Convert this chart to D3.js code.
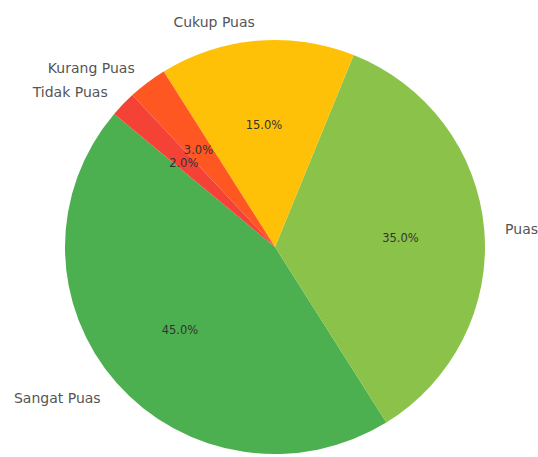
<!DOCTYPE html>
<html>
<head>
<meta charset="utf-8">
<script src="https://cdn.jsdelivr.net/npm/d3@7"></script>
<style>
    body { margin: 0; background: #fff; }
    text { font-family: "DejaVu Sans", sans-serif; }
</style>
</head>
<body>
<div id="chart"></div>
<script>
// survey satisfaction shares
const categories = ['Sangat Puas', 'Puas', 'Cukup Puas', 'Kurang Puas', 'Tidak Puas'];
const values = [45, 35, 15, 3, 2];
const colors = ['#4CAF50', '#8BC34A', '#FFC107', '#FF5722', '#F44336'];

const width = 538, height = 457;
const cx = 275, cy = 247;
const rx = 210, ry = 207;
const startDeg = 140; // counter-clockwise from 3 o'clock, like matplotlib

const svg = d3.select('#chart').append('svg')
    .attr('width', width)
    .attr('height', height);

const rad = d => d * Math.PI / 180;

const pie = d3.pie()
    .sort(null)
    .value(d => d.value)
    .startAngle(rad(90 - startDeg))
    .endAngle(rad(90 - startDeg - 360));

const arcs = pie(categories.map((c, i) => ({name: c, value: values[i], color: colors[i]})));

const arc = d3.arc().innerRadius(0).outerRadius(rx);

svg.append('g')
    .attr('transform', `translate(${cx},${cy}) scale(1,${ry / rx})`)
    .selectAll('path')
    .data(arcs)
    .join('path')
    .attr('d', arc)
    .attr('fill', d => d.data.color);

const total = d3.sum(values);
const pos = (d, k) => {
    const a = (d.startAngle + d.endAngle) / 2;
    return [cx + Math.sin(a) * rx * k, cy - Math.cos(a) * ry * k];
};

// category labels outside
svg.append('g')
    .selectAll('text')
    .data(arcs)
    .join('text')
    .attr('x', d => pos(d, 1.1)[0])
    .attr('y', d => pos(d, 1.1)[1])
    .attr('dy', 2)
    .attr('text-anchor', d => pos(d, 1.1)[0] < cx ? 'end' : 'start')
    .attr('dominant-baseline', 'central')
    .attr('font-size', 14)
    .attr('fill', '#555')
    .text(d => d.data.name);

// percentages inside
svg.append('g')
    .selectAll('text')
    .data(arcs)
    .join('text')
    .attr('x', d => pos(d, 0.6)[0])
    .attr('y', d => pos(d, 0.6)[1])
    .attr('dy', 2)
    .attr('text-anchor', 'middle')
    .attr('dominant-baseline', 'central')
    .attr('font-size', 11.5)
    .attr('fill', '#333')
    .text(d => (d.data.value / total * 100).toFixed(1) + '%');
</script>
</body>
</html>
